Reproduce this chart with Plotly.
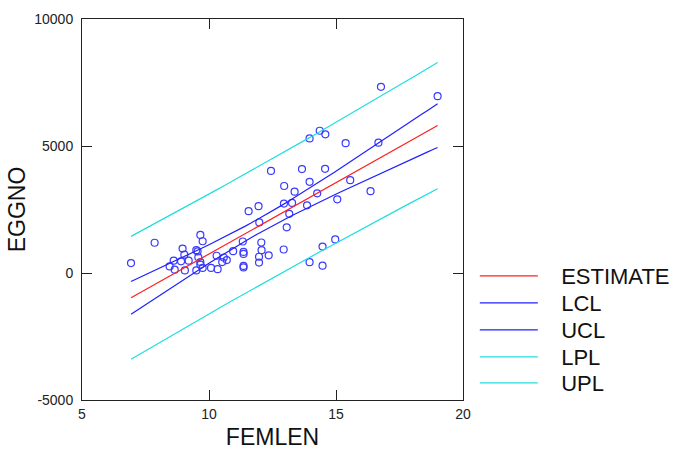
import numpy as np
import plotly.graph_objects as go

# Female length vs egg number
femlen = [
    16.77, 19.00, 14.36, 14.58, 13.96, 15.38, 16.67, 12.44, 13.66, 14.57,
    12.96, 13.96, 13.37, 15.56, 14.26, 16.36, 15.05, 12.95, 13.27, 13.86,
    13.16, 11.56, 11.95, 11.98, 13.06, 14.47, 14.97, 13.96, 14.47, 12.94,
    12.06, 11.33, 12.07, 11.97, 11.97, 12.35, 11.36, 11.36, 11.36, 11.36,
    10.95, 10.58, 10.70, 10.52, 10.30, 9.75, 9.66, 7.86, 6.93, 8.96,
    9.50, 9.55, 9.03, 8.61, 8.90, 9.20, 9.58, 9.66, 9.66, 8.65,
    9.05, 9.50, 9.75, 10.08, 10.34, 8.45,
]
eggno = [
    7330, 6960, 5600, 5460, 5300, 5110, 5130, 4020, 4090, 4100,
    3425, 3590, 3200, 3655, 3137, 3220, 2900, 2735, 2760, 2665,
    2330, 2435, 2630, 1990, 1800, 1040, 1320, 427, 287, 925,
    1200, 1240, 900, 640, 410, 697, 830, 750, 280, 220,
    860, 610, 510, 430, 680, 1250, 1500, 1190, 390, 960,
    900, 850, 720, 484, 460, 484, 618, 430, 327, 130,
    100, 100, 200, 200, 150, 260,
]

x_ticks = [5, 10, 15, 20]
y_ticks = [-5000, 0, 5000, 10000]
T_CRIT = 1.997  # two-sided 95% t quantile, ~64 df

x = np.array(femlen, dtype=float)
y = np.array(eggno, dtype=float)
n = len(x)
slope, intercept = np.polyfit(x, y, 1)
resid = y - (intercept + slope * x)
s = np.sqrt(np.sum(resid ** 2) / (n - 2))
sxx = np.sum((x - x.mean()) ** 2)

xg = np.linspace(x.min(), x.max(), 60)
fit = intercept + slope * xg
se_mean = s * np.sqrt(1 / n + (xg - x.mean()) ** 2 / sxx)
se_pred = s * np.sqrt(1 + 1 / n + (xg - x.mean()) ** 2 / sxx)

fig = go.Figure()
fig.add_trace(go.Scatter(
    x=femlen, y=eggno, mode="markers", showlegend=False,
    marker=dict(symbol="circle-open", size=7, color="#3a3aff", line=dict(width=1.2)),
))

# one single-entry legend per band so each key row can sit at its own height
bands = [
    ("ESTIMATE", fit, "#ff2020", 0.3255),
    ("LCL", fit - T_CRIT * se_mean, "#2020ff", 0.2546),
    ("UCL", fit + T_CRIT * se_mean, "#2020ff", 0.1837),
    ("LPL", fit - T_CRIT * se_pred, "#20dede", 0.1129),
    ("UPL", fit + T_CRIT * se_pred, "#20dede", 0.0446),
]
pad = "\u00a0\u00a0\u00a0"
legend_layout = {}
for i, (name, yy, col, ly) in enumerate(bands):
    key = "legend" if i == 0 else f"legend{i + 1}"
    fig.add_trace(go.Scatter(x=xg, y=yy, mode="lines", name=pad + name,
                             line=dict(color=col, width=1.2), legend=key))
    legend_layout[key] = dict(
        x=1.031, y=ly, xanchor="left", yanchor="middle",
        font=dict(family="Liberation Sans", size=22, color="#111"),
        itemwidth=58, bgcolor="rgba(0,0,0,0)", borderwidth=0,
    )

axis_common = dict(
    showgrid=False, zeroline=False, showline=True, linecolor="#222",
    linewidth=1, mirror="ticks", ticks="inside", ticklen=10, tickwidth=1,
    tickcolor="#222", automargin=False,
    tickfont=dict(family="Liberation Sans", size=14, color="#222"),
)
fig.update_xaxes(range=[5, 20], tickvals=x_ticks, ticktext=[str(v) for v in x_ticks],
                 ticklabelstandoff=1,
                 title=dict(text="FEMLEN", font=dict(family="Liberation Sans", size=23, color="#111"),
                            standoff=9),
                 **axis_common)
fig.update_yaxes(range=[-5000, 10000], tickvals=y_ticks, ticktext=[str(v) for v in y_ticks],
                 ticklabelstandoff=5,
                 title=dict(text="EGGNO", font=dict(family="Liberation Sans", size=23, color="#111"),
                            standoff=2),
                 **axis_common)

fig.update_layout(
    width=675, height=450,
    margin=dict(l=82, r=212, t=19, b=50, autoexpand=False),
    plot_bgcolor="white", paper_bgcolor="white",
    **legend_layout,
)

fig.write_html("out.html")
